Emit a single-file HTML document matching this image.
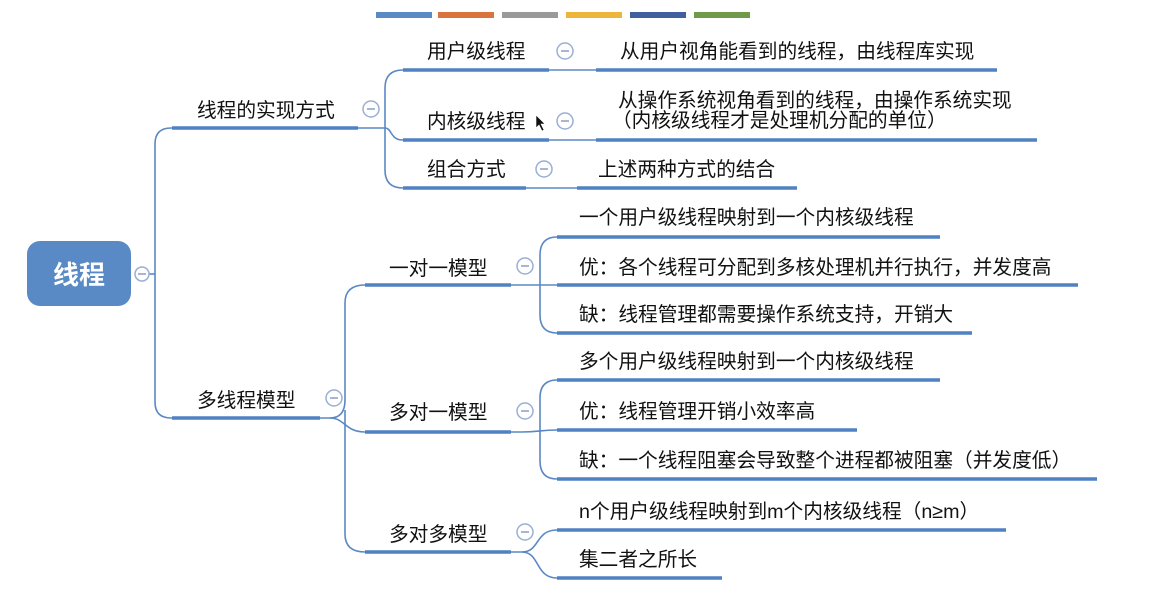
<!DOCTYPE html>
<html><head><meta charset="utf-8"><style>
html,body{margin:0;padding:0;background:#fff;}
svg{display:block;}
text{font-family:"Liberation Sans","Noto Sans CJK SC",sans-serif;font-size:19.7px;fill:#111;}
.u{stroke:#4f81c3;stroke-width:3.6;}
.c{fill:none;stroke:#5a88c4;stroke-width:1.6;}
.k circle{fill:#fff;stroke:#9aaed6;stroke-width:1.5;}
.k line{stroke:#8a9cc4;stroke-width:1.5;}
</style></head><body>
<svg width="1158" height="590" viewBox="0 0 1158 590">
<g>
<rect x="376" y="12" width="56" height="6" fill="#5a8ac6"/>
<rect x="438" y="12" width="56" height="6" fill="#d9743d"/>
<rect x="502" y="12" width="56" height="6" fill="#9a9a9a"/>
<rect x="566" y="12" width="56" height="6" fill="#edb53c"/>
<rect x="630" y="12" width="56" height="6" fill="#3f5f9e"/>
<rect x="694" y="12" width="56" height="6" fill="#6e9a4a"/>
</g>
<g class="c">
<path d="M149 274 H155"/>
<path d="M172 128 H171 Q155 128 155 144 V402 Q155 418 171 418 H172"/>
<path d="M358 128 H385"/>
<path d="M385 128 V88 Q385 70 403 70"/>
<path d="M385 128 C392 128 390 140 403 140"/>
<path d="M385 128 V170 Q385 188 403 188"/>
<path d="M549 70 H596"/><path d="M549 140 H596"/><path d="M526 188 H577"/>
<path d="M320 418 H330 Q345 418 345 400 V303 Q345 285 365 285"/>
<path d="M330 418 C345 418 345 432 365 432"/>
<path d="M345 410 V534 Q345 552 365 552"/>
<path d="M511 285 H557"/>
<path d="M540 285 V255 Q540 237 557 237"/>
<path d="M540 285 V315 Q540 333 557 333"/>
<path d="M511 432 H522 C540 432 540 430 557 430"/>
<path d="M540 432 V398 Q540 380 557 380"/>
<path d="M540 432 V461 Q540 479 557 479"/>
<path d="M511 552 H522 C540 552 535 530 557 530"/>
<path d="M522 552 C540 552 535 578 557 578"/>
</g>
<g class="u">
<line x1="172" y1="128" x2="358" y2="128"/>
<line x1="172" y1="418" x2="320" y2="418"/>
<line x1="403" y1="70" x2="549" y2="70"/>
<line x1="403" y1="140" x2="549" y2="140"/>
<line x1="403" y1="188" x2="526" y2="188"/>
<line x1="596" y1="70" x2="997" y2="70"/>
<line x1="596" y1="140" x2="1037" y2="140"/>
<line x1="577" y1="188" x2="797" y2="188"/>
<line x1="365" y1="285" x2="511" y2="285"/>
<line x1="365" y1="432" x2="511" y2="432"/>
<line x1="365" y1="552" x2="511" y2="552"/>
<line x1="557" y1="237" x2="940" y2="237"/>
<line x1="557" y1="285" x2="1078" y2="285"/>
<line x1="557" y1="333" x2="972" y2="333"/>
<line x1="557" y1="380" x2="940" y2="380"/>
<line x1="557" y1="430" x2="857" y2="430"/>
<line x1="557" y1="479" x2="1097" y2="479"/>
<line x1="557" y1="530" x2="1006" y2="530"/>
<line x1="557" y1="578" x2="722" y2="578"/>
</g>
<rect x="27" y="241" width="104" height="65" rx="13" fill="#5a8ac6"/>
<text x="79" y="284" text-anchor="middle" style="font-size:26px;font-weight:bold;fill:#fff">线程</text>
<g class="k">
<circle cx="142" cy="274" r="7"/><line x1="138" y1="274" x2="146" y2="274"/>
<circle cx="371" cy="109" r="8"/><line x1="367" y1="109" x2="375" y2="109"/>
<circle cx="334" cy="398" r="8"/><line x1="330" y1="398" x2="338" y2="398"/>
<circle cx="565" cy="51" r="8"/><line x1="561" y1="51" x2="569" y2="51"/>
<circle cx="565" cy="121" r="8"/><line x1="561" y1="121" x2="569" y2="121"/>
<circle cx="544" cy="169" r="8"/><line x1="540" y1="169" x2="548" y2="169"/>
<circle cx="525" cy="266" r="8"/><line x1="521" y1="266" x2="529" y2="266"/>
<circle cx="525" cy="411" r="8"/><line x1="521" y1="411" x2="529" y2="411"/>
<circle cx="525" cy="532" r="8"/><line x1="521" y1="532" x2="529" y2="532"/>
</g>
<path d="M536 115 L536 128 L539 125 L542 131 L544 130 L541 124 L545 124 Z" fill="#111" stroke="#fff" stroke-width="0.6"/>
<text x="197" y="117">线程的实现方式</text>
<text x="197" y="407">多线程模型</text>
<text x="427" y="58">用户级线程</text>
<text x="427" y="128">内核级线程</text>
<text x="427" y="176">组合方式</text>
<text x="620" y="58">从用户视角能看到的线程，由线程库实现</text>
<text x="618" y="107">从操作系统视角看到的线程，由操作系统实现</text>
<text x="612" y="127">（内核级线程才是处理机分配的单位）</text>
<text x="598" y="176">上述两种方式的结合</text>
<text x="389" y="275">一对一模型</text>
<text x="389" y="419">多对一模型</text>
<text x="389" y="541">多对多模型</text>
<text x="579" y="224">一个用户级线程映射到一个内核级线程</text>
<text x="579" y="274">优：各个线程可分配到多核处理机并行执行，并发度高</text>
<text x="579" y="321">缺：线程管理都需要操作系统支持，开销大</text>
<text x="579" y="368">多个用户级线程映射到一个内核级线程</text>
<text x="579" y="418">优：线程管理开销小效率高</text>
<text x="579" y="467">缺：一个线程阻塞会导致整个进程都被阻塞（并发度低）</text>
<text x="579" y="518">n个用户级线程映射到m个内核级线程（n≥m）</text>
<text x="579" y="566">集二者之所长</text>
</svg>
</body></html>
